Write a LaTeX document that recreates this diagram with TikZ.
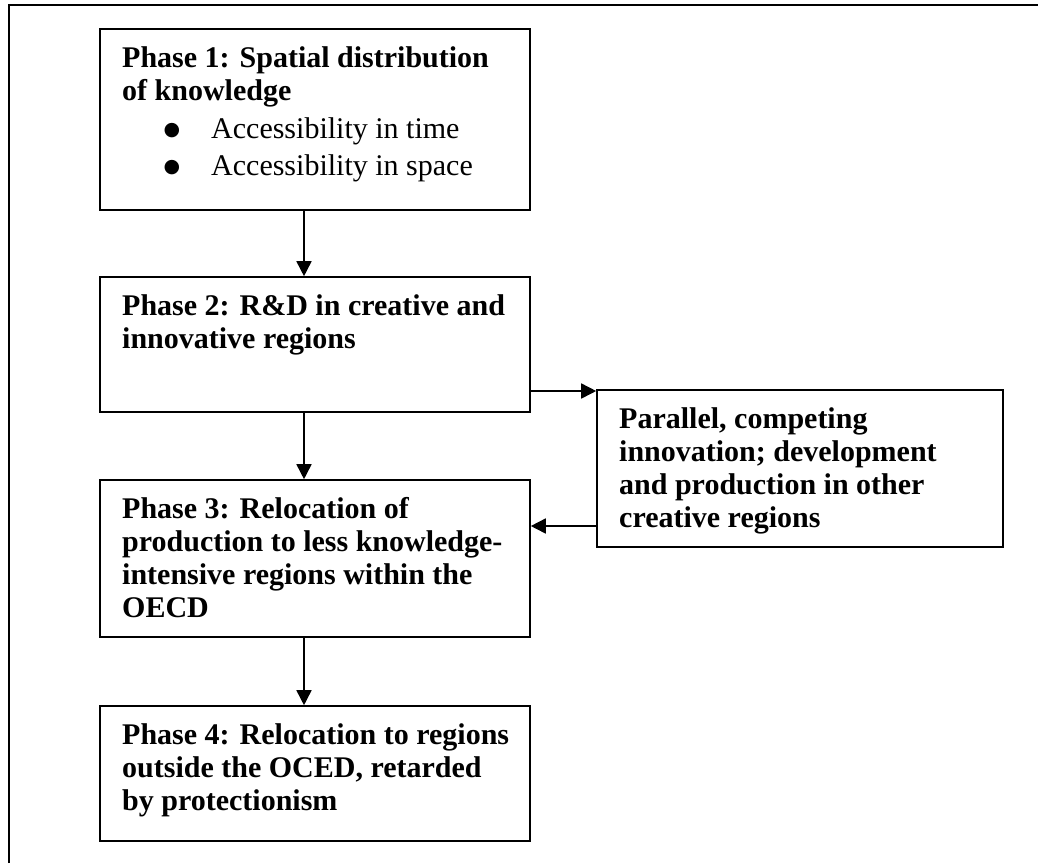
\documentclass[tikz,border=0pt]{standalone}
\usepackage{fontspec}
\setmainfont{Liberation Serif}
\newfontfamily\dvs{DejaVu Sans}
\usetikzlibrary{arrows.meta}
\tikzset{
  box/.style={draw, line width=1.6pt, inner sep=0pt},
  ln/.style={anchor=base west, inner sep=0pt, font=\fontsize{30}{33}\selectfont\bfseries},
  nl/.style={anchor=base west, inner sep=0pt, font=\fontsize{30}{33}\selectfont},
  bul/.style={anchor=base, inner sep=0pt, font=\dvs\fontsize{19}{20}\selectfont},
  conn/.style={line width=1.6pt, -{Triangle[length=15pt,width=15pt]}},
}
\begin{document}
\begin{tikzpicture}[x=1pt,y=-1pt]
\useasboundingbox (0,0) rectangle (1038,863);
\draw[line width=2.6pt] (9,863) -- (9,5) -- (1038,5);
% boxes
\node[box, minimum width=430pt, minimum height=181pt] (b1) at (315,119.5) {};
\node[box, minimum width=430pt, minimum height=135pt] (b2) at (315,344.5) {};
\node[box, minimum width=430pt, minimum height=157pt] (b3) at (315,558.5) {};
\node[box, minimum width=430pt, minimum height=135pt] (b4) at (315,773.5) {};
\node[box, minimum width=406pt, minimum height=157pt] (p) at (800,468.5) {};
% text box 1
\node[ln] (t11) at (122,67) {Phase 1: Spatial distribution};
\node[ln] (t12) at (122,100) {of knowledge};
\node[bul] (u1) at (172,135) {●};
\node[nl] (t13) at (211,138) {Accessibility in time};
\node[bul] (u2) at (172,172) {●};
\node[nl] (t14) at (211,175) {Accessibility in space};
% text box 2
\node[ln] (t21) at (122,315) {Phase 2: R\&D in creative and};
\node[ln] (t22) at (122,348) {innovative regions};
% text box 3
\node[ln] (t31) at (122,518) {Phase 3: Relocation of};
\node[ln] (t32) at (122,551) {production to less knowledge-};
\node[ln] (t33) at (122,584) {intensive regions within the};
\node[ln] (t34) at (122,617) {OECD};
% text box 4
\node[ln] (t41) at (122,744) {Phase 4: Relocation to regions};
\node[ln] (t42) at (122,777) {outside the OCED, retarded};
\node[ln] (t43) at (122,810) {by protectionism};
% parallel box
\node[ln] (tp1) at (619,428) {Parallel, competing};
\node[ln] (tp2) at (619,461) {innovation; development};
\node[ln] (tp3) at (619,494) {and production in other};
\node[ln] (tp4) at (619,527) {creative regions};
% connectors
\coordinate (a1) at (304,210);
\draw[conn] (b1.south -| a1) -- (b2.north -| a1);
\draw[conn] (b2.south -| a1) -- (b3.north -| a1);
\draw[conn] (b3.south -| a1) -- (b4.north -| a1);
\coordinate (r1) at (530,391);
\draw[conn] (r1) -- (p.west |- r1);
\coordinate (r2) at (597,526);
\draw[conn] (r2) -- (b3.east |- r2);
\end{tikzpicture}
\end{document}
